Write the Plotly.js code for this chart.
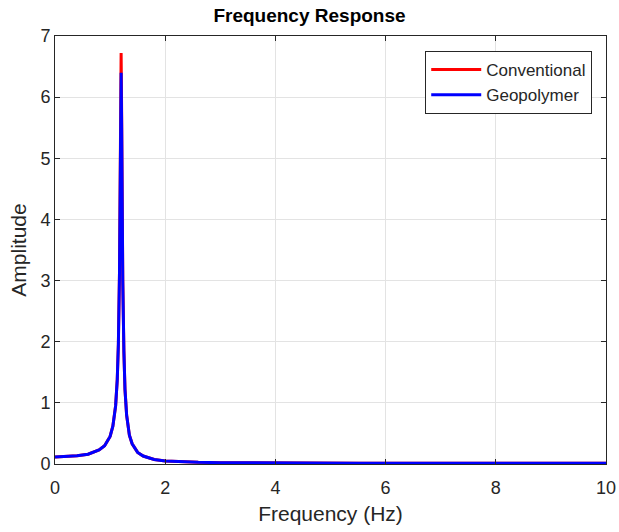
<!DOCTYPE html>
<html>
<head>
<meta charset="utf-8">
<script src="https://cdn.plot.ly/plotly-3.0.1.min.js"></script>
<style>html,body{margin:0;padding:0;background:#fff;}#chart{width:619px;height:532px;}</style>
</head>
<body>
<div id="chart"></div>
<script>
var freq = [0, 0.2, 0.4, 0.6, 0.7, 0.8, 0.9, 1.0, 1.05, 1.1, 1.13, 1.15, 1.17, 1.18, 1.19, 1.2, 1.21, 1.22, 1.23, 1.25, 1.27, 1.3, 1.35, 1.4, 1.5, 1.6, 1.8, 2.0, 2.3, 2.6, 3.0, 3.5, 4.0, 4.5, 5.0, 5.5, 6.0, 6.5, 7.0, 7.5, 8.0, 8.5, 9.0, 9.5, 10.0];
var conventional = [0.115, 0.12, 0.135, 0.16, 0.19, 0.23, 0.30, 0.45, 0.62, 0.95, 1.38, 1.95, 3.1, 4.3, 5.8, 6.72, 5.7, 4.2, 3.0, 1.85, 1.22, 0.80, 0.47, 0.33, 0.19, 0.13, 0.075, 0.05, 0.035, 0.028, 0.022, 0.018, 0.015, 0.014, 0.013, 0.012, 0.014, 0.011, 0.013, 0.010, 0.012, 0.011, 0.013, 0.010, 0.012];
var geopolymer = [0.115, 0.12, 0.135, 0.16, 0.19, 0.23, 0.30, 0.45, 0.62, 0.95, 1.38, 1.95, 3.1, 4.2, 5.6, 6.4, 5.5, 4.1, 3.0, 1.85, 1.22, 0.80, 0.47, 0.33, 0.19, 0.13, 0.075, 0.05, 0.035, 0.028, 0.022, 0.018, 0.015, 0.014, 0.013, 0.012, 0.014, 0.011, 0.013, 0.010, 0.012, 0.011, 0.013, 0.010, 0.012];
var xTicks = [0, 2, 4, 6, 8, 10];
var yTicks = [0, 1, 2, 3, 4, 5, 6, 7];

var font = 'Liberation Sans, Arial, sans-serif';
var traces = [
  {x: freq, y: conventional, name: 'Conventional', mode: 'lines', line: {color: '#ff0000', width: 3}},
  {x: freq, y: geopolymer, name: 'Geopolymer', mode: 'lines', line: {color: '#0000ff', width: 3}}
];
var axisCommon = {
  showgrid: true, gridcolor: '#e3e3e3', gridwidth: 1,
  showline: true, linecolor: '#262626', linewidth: 1, mirror: 'ticks',
  ticks: 'inside', ticklen: 5, tickcolor: '#262626',
  zeroline: false,
  tickfont: {family: font, size: 18, color: '#262626'}
};
var layout = {
  width: 619, height: 532,
  margin: {l: 55, r: 13, t: 36, b: 68},
  paper_bgcolor: '#ffffff', plot_bgcolor: '#ffffff',
  title: {text: '<b>Frequency Response</b>', font: {family: font, size: 19, color: '#000'}, x: 0.5, xanchor: 'center', y: 0.972, yanchor: 'middle'},
  xaxis: Object.assign({}, axisCommon, {range: [0, 10], tickvals: xTicks, ticktext: xTicks.map(String), ticklabelstandoff: 7,
    title: {text: 'Frequency (Hz)', font: {family: font, size: 21, color: '#262626'}, standoff: 9}}),
  yaxis: Object.assign({}, axisCommon, {range: [0, 7], tickvals: yTicks, ticktext: yTicks.map(String),
    title: {text: 'Amplitude', font: {family: font, size: 21, color: '#262626'}, standoff: 8}}),
  showlegend: true,
  legend: {x: 0.975, y: 0.965, xanchor: 'right', yanchor: 'top', bgcolor: '#ffffff', bordercolor: '#262626', borderwidth: 1,
    font: {family: font, size: 17, color: '#262626'}, tracegroupgap: 0, itemwidth: 50}
};
Plotly.newPlot('chart', traces, layout, {displayModeBar: false, staticPlot: true});
</script>
</body>
</html>
